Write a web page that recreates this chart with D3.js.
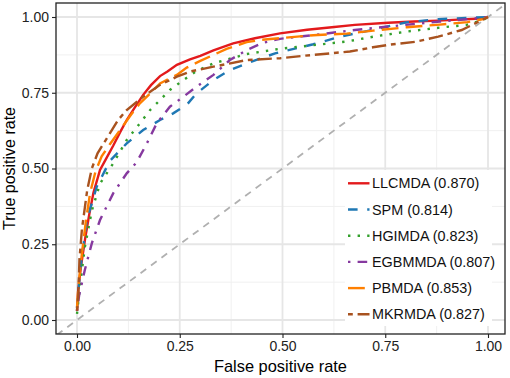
<!DOCTYPE html>
<html>
<head>
<meta charset="utf-8">
<script src="https://cdn.jsdelivr.net/npm/d3@7"></script>
<style>
  body { margin: 0; background: #fff; }
  text { font-family: "Liberation Sans", Arial, sans-serif; }
</style>
</head>
<body>
<div id="rocChart"></div>
<script>
// ROC points as [false positive rate, true positive rate]
let llcmda = [[0,0.03],[0.003,0.1],[0.01,0.18],[0.02,0.27],[0.03,0.35],[0.04,0.42],[0.056,0.495],[0.07,0.53],[0.088,0.575],[0.105,0.62],[0.121,0.66],[0.14,0.70],[0.161,0.743],[0.18,0.775],[0.202,0.805],[0.22,0.82],[0.243,0.842],[0.275,0.86],[0.30,0.872],[0.332,0.89],[0.38,0.913],[0.433,0.93],[0.494,0.946],[0.56,0.958],[0.62,0.966],[0.676,0.974],[0.757,0.981],[0.82,0.985],[0.879,0.988],[0.94,0.992],[0.985,0.995],[1,1]];
let spm = [[0,0.04],[0.005,0.12],[0.011,0.2],[0.024,0.33],[0.048,0.44],[0.08,0.525],[0.121,0.583],[0.161,0.627],[0.202,0.66],[0.234,0.682],[0.267,0.71],[0.291,0.748],[0.332,0.792],[0.372,0.825],[0.413,0.847],[0.482,0.88],[0.575,0.91],[0.64,0.935],[0.717,0.957],[0.80,0.982],[0.879,0.993],[0.968,0.998],[1,1]];
let hgimda = [[0,0.02],[0.007,0.11],[0.019,0.24],[0.036,0.36],[0.056,0.45],[0.088,0.517],[0.121,0.594],[0.153,0.649],[0.178,0.693],[0.202,0.726],[0.226,0.759],[0.259,0.792],[0.291,0.822],[0.332,0.847],[0.413,0.878],[0.494,0.895],[0.575,0.907],[0.656,0.919],[0.721,0.935],[0.802,0.952],[0.883,0.965],[0.948,0.974],[0.988,0.99],[1,1]];
let egbmmda = [[0,0.03],[0.005,0.08],[0.019,0.165],[0.036,0.253],[0.056,0.33],[0.088,0.418],[0.121,0.484],[0.145,0.52],[0.17,0.583],[0.194,0.649],[0.226,0.704],[0.259,0.737],[0.291,0.77],[0.332,0.809],[0.372,0.858],[0.413,0.891],[0.453,0.915],[0.494,0.928],[0.579,0.941],[0.676,0.957],[0.798,0.974],[0.883,0.985],[0.968,0.995],[1,1]];
let pbmda = [[0,0.04],[0.004,0.12],[0.012,0.22],[0.022,0.33],[0.032,0.42],[0.045,0.49],[0.06,0.54],[0.08,0.58],[0.105,0.627],[0.13,0.675],[0.153,0.715],[0.18,0.75],[0.202,0.781],[0.218,0.792],[0.243,0.809],[0.267,0.833],[0.30,0.855],[0.332,0.875],[0.364,0.895],[0.413,0.917],[0.45,0.925],[0.494,0.93],[0.575,0.94],[0.656,0.945],[0.721,0.955],[0.802,0.966],[0.883,0.975],[0.95,0.983],[0.988,0.993],[1,1]];
let mkrmda = [[0,0.03],[0.003,0.07],[0.006,0.2],[0.012,0.3],[0.019,0.37],[0.025,0.43],[0.036,0.5],[0.05,0.55],[0.08,0.616],[0.1,0.66],[0.121,0.693],[0.161,0.737],[0.202,0.776],[0.243,0.803],[0.275,0.82],[0.332,0.836],[0.413,0.858],[0.494,0.864],[0.575,0.875],[0.664,0.886],[0.72,0.9],[0.757,0.908],[0.822,0.918],[0.879,0.935],[0.936,0.957],[0.985,0.99],[1,1]];

let methods = ["LLCMDA", "SPM", "HGIMDA", "EGBMMDA", "PBMDA", "MKRMDA"];
let aucs = ["0.870", "0.814", "0.823", "0.807", "0.853", "0.827"];
let majorTicks = [0, 0.25, 0.5, 0.75, 1];
let minorTicks = [0.125, 0.375, 0.625, 0.875];

let colors = ["#e31a1c", "#1f78b4", "#33a02c", "#86399f", "#ff7f00", "#a8521f"];
// ggplot-ish linetypes scaled by line width
let dashes = [null, "9.6,9.6", "2.4,7.2", "2.4,7.2,9.6,7.2", "16.8,7.2", "4.8,4.8,14.4,4.8"];

function rocChart(series) {
    let width = 510, height = 378;
    let panel = {left: 56, right: 505, top: 3, bottom: 334};

    let svg = d3.select("#rocChart").append("svg")
                .attr("width", width)
                .attr("height", height);

    let xScale = d3.scaleLinear().domain([0, 1]).range([77, 488]);
    let yScale = d3.scaleLinear().domain([0, 1]).range([320, 17]);

    svg.append("defs").append("clipPath").attr("id", "panelClip")
       .append("rect")
       .attr("x", panel.left).attr("y", panel.top)
       .attr("width", panel.right - panel.left)
       .attr("height", panel.bottom - panel.top);

    /* grid */
    let grid = svg.append("g");
    grid.selectAll(".vminor").data(minorTicks).enter().append("line")
        .attr("x1", d => xScale(d)).attr("x2", d => xScale(d))
        .attr("y1", panel.top).attr("y2", panel.bottom)
        .attr("stroke", "#f0f0f0").attr("stroke-width", 1);
    grid.selectAll(".hminor").data(minorTicks).enter().append("line")
        .attr("y1", d => yScale(d)).attr("y2", d => yScale(d))
        .attr("x1", panel.left).attr("x2", panel.right)
        .attr("stroke", "#f0f0f0").attr("stroke-width", 1);
    grid.selectAll(".vmajor").data(majorTicks).enter().append("line")
        .attr("x1", d => xScale(d)).attr("x2", d => xScale(d))
        .attr("y1", panel.top).attr("y2", panel.bottom)
        .attr("stroke", "#e6e6e6").attr("stroke-width", 1.8);
    grid.selectAll(".hmajor").data(majorTicks).enter().append("line")
        .attr("y1", d => yScale(d)).attr("y2", d => yScale(d))
        .attr("x1", panel.left).attr("x2", panel.right)
        .attr("stroke", "#e6e6e6").attr("stroke-width", 1.8);

    let plot = svg.append("g").attr("clip-path", "url(#panelClip)");

    /* chance diagonal */
    plot.append("line")
        .attr("x1", xScale(-0.1)).attr("y1", yScale(-0.1))
        .attr("x2", xScale(1.1)).attr("y2", yScale(1.1))
        .attr("stroke", "#b0b0b0")
        .attr("stroke-width", 1.8)
        .attr("stroke-dasharray", "7,6");

    let line = d3.line()
        .x(d => xScale(d[0]))
        .y(d => yScale(d[1]));

    plot.selectAll(".roc")
        .data(series)
        .enter()
        .append("path")
        .attr("class", "roc")
        .attr("d", d => line(d))
        .attr("fill", "none")
        .attr("stroke", (d, i) => colors[i])
        .attr("stroke-width", 2.4)
        .attr("stroke-dasharray", (d, i) => dashes[i]);

    /* legend */
    let legend = svg.append("g");
    legend.append("rect")
          .attr("x", 345).attr("y", 170)
          .attr("width", 147).attr("height", 156)
          .attr("fill", "#fff");

    let item = legend.selectAll(".item")
        .data(methods)
        .enter()
        .append("g")
        .attr("transform", (d, i) => "translate(348," + (183.3 + i * 26.2) + ")");

    item.append("line")
        .attr("x1", 0).attr("x2", 21.5)
        .attr("stroke", (d, i) => colors[i])
        .attr("stroke-width", 2.4)
        .attr("stroke-dasharray", (d, i) => dashes[i]);

    item.append("text")
        .attr("x", 24)
        .attr("dy", "0.35em")
        .attr("font-size", 14.4)
        .attr("fill", "#111")
        .text((d, i) => d + " (" + aucs[i] + ")");

    /* panel border */
    svg.append("rect")
       .attr("x", panel.left).attr("y", panel.top)
       .attr("width", panel.right - panel.left)
       .attr("height", panel.bottom - panel.top)
       .attr("fill", "none")
       .attr("stroke", "#222")
       .attr("stroke-width", 1.3);

    /* axes */
    let xAxis = d3.axisBottom(xScale)
        .tickValues(majorTicks)
        .tickFormat(d3.format(".2f"))
        .tickSize(4)
        .tickPadding(3);

    svg.append("g")
        .attr("transform", "translate(0," + panel.bottom + ")")
        .call(xAxis)
        .call(g => g.select(".domain").remove());

    let yAxis = d3.axisLeft(yScale)
        .tickValues(majorTicks)
        .tickFormat(d3.format(".2f"))
        .tickSize(4)
        .tickPadding(3);

    svg.append("g")
        .attr("transform", "translate(" + panel.left + ",0)")
        .call(yAxis)
        .call(g => g.select(".domain").remove());

    svg.selectAll(".tick text")
        .attr("font-size", 14)
        .attr("font-family", "Liberation Sans, Arial, sans-serif")
        .attr("fill", "#222");
    svg.selectAll(".tick line").attr("stroke", "#222").attr("stroke-width", 1.1);

    svg.append("text")
       .attr("x", (panel.left + panel.right) / 2)
       .attr("y", 372)
       .attr("text-anchor", "middle")
       .attr("font-size", 16.4)
       .attr("fill", "#000")
       .text("False positive rate");

    svg.append("text")
       .attr("transform", "translate(15," + (panel.top + panel.bottom) / 2 + ") rotate(-90)")
       .attr("text-anchor", "middle")
       .attr("font-size", 16)
       .attr("fill", "#000")
       .text("True positive rate");
}

rocChart([llcmda, spm, hgimda, egbmmda, pbmda, mkrmda]);
</script>
</body>
</html>
